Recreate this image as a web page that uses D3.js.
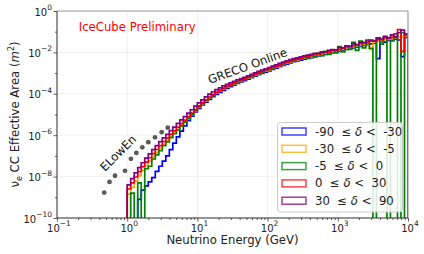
<!DOCTYPE html>
<html>
<head>
<meta charset="utf-8">
<script src="https://cdn.jsdelivr.net/npm/d3@7"></script>
<style>
	body { margin: 0; background: #fff; }
	text { font-family: 'DejaVu Sans', sans-serif; }
</style>
</head>
<body>
<script>
const w = 424;
const h = 254;
const margin = {
	top: 11,
	bottom: 36,
	left: 57,
	right: 16
};
const width = w - margin.left - margin.right;
const height = h - margin.top - margin.bottom;

// energy bins: 1 GeV .. 10 TeV, 20 per decade
const binEdges = d3.range(81).map(function(i) {
	return Math.pow(10, i / 20);
});

// log10 of nu_e CC effective area (m^2) per bin, null = empty bin
const blueLog = [
	null, null, null, -9.10, -8.65, -8.45, -8.25, -8.05, -7.75, -7.50,
	-7.25, -7.00, -6.70, -6.38, -6.08, -5.80, -5.55, -5.30, -5.08, -4.88,
	-4.70, -4.54, -4.40, -4.27, -4.14, -4.03, -3.93, -3.83, -3.74, -3.66,
	-3.58, -3.50, -3.43, -3.36, -3.29, -3.22, -3.15, -3.08, -3.02, -2.95,
	-2.89, -2.82, -2.76, -2.69, -2.63, -2.57, -2.51, -2.45, -2.41, -2.37,
	-2.33, -2.29, -2.25, -2.21, -2.17, -2.14, -2.10, -2.06, -2.02, -1.98,
	-1.94, -1.90, -1.86, -1.83, -1.78, -1.75, -1.71, -1.66, -1.63, -1.59,
	-1.55, -2.30, -1.48, -1.50, -1.42, -1.40, -1.36, -1.40, -2.20, -1.28
];
const orangeLog = [
	-8.85, -8.52, -8.22, -7.95, -7.70, -7.47, -7.25, -7.04, -6.84, -6.64,
	-6.45, -6.27, -6.08, -5.90, -5.72, -5.54, -5.36, -5.19, -5.02, -4.84,
	-4.65, -4.48, -4.34, -4.21, -4.08, -3.97, -3.87, -3.77, -3.68, -3.60,
	-3.52, -3.45, -3.38, -3.31, -3.24, -3.17, -3.10, -3.03, -2.97, -2.90,
	-2.84, -2.77, -2.71, -2.64, -2.58, -2.52, -2.46, -2.40, -2.36, -2.32,
	-2.28, -2.24, -2.20, -2.16, -2.12, -2.09, -2.05, -2.01, -1.97, -1.93,
	-1.89, -1.85, -1.81, -1.77, -1.73, -1.70, -1.66, -1.61, -1.58, -1.85,
	-1.50, -1.46, -1.43, -1.40, -1.37, -1.33, -1.30, -1.28, -1.24, -1.22
];
const greenLog = [
	null, -8.80, null, -8.30, null, -7.62, -7.50, -7.15, -6.95, -6.75,
	-6.50, -6.32, -6.12, -5.93, -5.74, -5.55, -5.37, -5.19, -5.01, -4.83,
	-4.62, -4.46, -4.32, -4.19, -4.06, -3.95, -3.85, -3.75, -3.66, -3.58,
	-3.50, -3.43, -3.36, -3.29, -3.22, -3.15, -3.08, -3.01, -2.95, -2.88,
	-2.82, -2.75, -2.69, -2.62, -2.56, -2.50, -2.44, -2.40, -2.33, -2.31,
	-2.24, -2.26, -2.15, -2.22, -2.05, -2.16, -1.95, -2.10, -1.88, -2.02,
	-1.72, -1.98, -1.68, -1.86, -1.52, -1.90, -1.45, -1.78, -1.40, -1.80,
	null, -1.30, -1.60, -1.25, null, -1.45, -1.10, null, -1.05, null
];
const redLog = [
	-8.60, -8.30, -8.02, -7.76, -7.52, -7.30, -7.09, -6.89, -6.69, -6.50,
	-6.31, -6.14, -5.96, -5.79, -5.61, -5.44, -5.27, -5.10, -4.93, -4.76,
	-4.58, -4.42, -4.29, -4.16, -4.03, -3.92, -3.82, -3.72, -3.63, -3.55,
	-3.47, -3.40, -3.33, -3.26, -3.19, -3.12, -3.05, -2.98, -2.92, -2.85,
	-2.79, -2.72, -2.66, -2.59, -2.53, -2.47, -2.41, -2.36, -2.32, -2.28,
	-2.23, -2.19, -2.15, -2.11, -2.07, -2.04, -1.99, -1.97, -1.90, -1.90,
	-1.84, -1.80, -1.74, -1.74, -1.66, -1.64, -1.58, -1.52, -1.54, -1.46,
	-1.44, -1.38, -1.38, -1.30, -1.32, -1.26, -1.28, -0.90, -1.95, -1.10
];
const purpleLog = [
	-8.40, -8.10, -7.82, -7.57, -7.33, -7.11, -6.90, -6.70, -6.50, -6.31,
	-6.13, -5.96, -5.78, -5.61, -5.43, -5.26, -5.10, -4.93, -4.77, -4.60,
	-4.44, -4.29, -4.15, -4.02, -3.90, -3.80, -3.71, -3.62, -3.54, -3.47,
	-3.40, -3.33, -3.27, -3.20, -3.13, -3.06, -2.99, -2.92, -2.86, -2.79,
	-2.73, -2.66, -2.60, -2.53, -2.47, -2.41, -2.35, -2.30, -2.26, -2.22,
	-2.17, -2.13, -2.10, -2.05, -2.04, -1.97, -1.98, -1.90, -1.86, -1.88,
	-1.75, -1.78, -1.68, -1.70, -1.58, -1.62, -1.50, -1.54, -1.45, -1.40,
	-1.45, -1.30, -1.36, -1.22, -1.30, -1.15, -1.24, -1.05, -0.92, -1.15
];

const seriesData = [blueLog, orangeLog, greenLog, redLog, purpleLog];
const seriesLow = ['-90', '-30', '-5', '0', '30'];
const seriesHigh = ['-30', '-5', '0', '30', '90'];
const seriesColors = ['blue', 'orange', 'green', 'red', 'purple'];

// ELowEn points (GeV, m^2)
const elowenE = [0.47, 0.56, 0.67, 0.93, 1.13, 1.35, 1.64, 2.0, 2.49, 3.1, 3.78];
const elowenA = [1.7e-9, 5.5e-9, 1.1e-8, 1.9e-8, 7.2e-8, 1.4e-7, 2.6e-7, 4.6e-7, 7.9e-7, 1.4e-6, 2.3e-6];

const xMajor = [1e-1, 1, 1e1, 1e2, 1e3, 1e4];
const yMajor = [1e-10, 1e-8, 1e-6, 1e-4, 1e-2, 1];
const yMinor = [1e-9, 1e-7, 1e-5, 1e-3, 1e-1];

let x = d3.scaleLog().domain([1e-1, 1e4]).range([0, width]);
let y = d3.scaleLog().domain([1e-10, 1]).range([height, 0]);

let xMinor = [];
[-1, 0, 1, 2, 3].forEach(function(k) {
	for (let m = 2; m < 10; m++) xMinor.push(m * Math.pow(10, k));
});

let svg = d3.select('body').append('svg').attr('width', w).attr('height', h);
let g = svg.append('g').attr('transform', 'translate(' + margin.left + ',' + margin.top + ')');

svg.append('defs').append('clipPath').attr('id', 'plotclip')
	.append('rect').attr('x', 0).attr('y', 0).attr('width', width).attr('height', height);

// grid
g.selectAll('.xgrid').data(xMajor).enter().append('line')
	.attr('x1', function(d) { return x(d); }).attr('x2', function(d) { return x(d); })
	.attr('y1', 0).attr('y2', height)
	.attr('stroke', '#ebebeb').attr('stroke-width', 0.8);
g.selectAll('.ygrid').data(yMajor).enter().append('line')
	.attr('x1', 0).attr('x2', width)
	.attr('y1', function(d) { return y(d); }).attr('y2', function(d) { return y(d); })
	.attr('stroke', '#ebebeb').attr('stroke-width', 0.8);

function yv(v) {
	return v === null ? height + 10 : y(Math.pow(10, v));
}

// matplotlib-style step outline, open bins drop to the floor
function stepPath(vals) {
	let p = 'M' + x(binEdges[0]) + ',' + (height + 10);
	vals.forEach(function(v, i) {
		p += 'V' + yv(v) + 'H' + x(binEdges[i + 1]);
	});
	return p + 'V' + (height + 10);
}

let plot = g.append('g').attr('clip-path', 'url(#plotclip)');

plot.selectAll('.hist').data(seriesData).enter().append('path')
	.attr('class', 'hist')
	.attr('d', stepPath)
	.attr('fill', 'none')
	.attr('stroke', function(d, i) { return seriesColors[i]; })
	.attr('stroke-width', 1.7);

plot.selectAll('.elow').data(elowenE).enter().append('circle')
	.attr('cx', function(d) { return x(d); })
	.attr('cy', function(d, i) { return y(elowenA[i]); })
	.attr('r', 2.4)
	.attr('fill', '#5a5a5a');

// ticks
g.append('g').attr('transform', 'translate(0,' + height + ')')
	.call(d3.axisBottom(x).tickValues(xMajor).tickSize(3.5).tickFormat(''))
	.call(function(s) { s.select('.domain').remove(); });
g.append('g').attr('transform', 'translate(0,' + height + ')')
	.call(d3.axisBottom(x).tickValues(xMinor).tickSize(2).tickFormat(''))
	.call(function(s) { s.select('.domain').remove(); });
g.append('g')
	.call(d3.axisLeft(y).tickValues(yMajor).tickSize(3.5).tickFormat(''))
	.call(function(s) { s.select('.domain').remove(); });
g.append('g')
	.call(d3.axisLeft(y).tickValues(yMinor).tickSize(2).tickFormat(''))
	.call(function(s) { s.select('.domain').remove(); });
g.selectAll('.tick line').attr('stroke', '#333').attr('stroke-width', 0.8);

function powLabel(sel, d) {
	let e = Math.round(Math.log10(d));
	sel.append('tspan').text('10');
	sel.append('tspan').attr('dy', -5.5).attr('font-size', 7.5)
		.text(e < 0 ? '\u2212' + (-e) : String(e));
}

g.selectAll('.xlab').data(xMajor).enter().append('text')
	.attr('x', function(d) { return x(d) + 2; })
	.attr('y', height + 13.5)
	.attr('text-anchor', 'middle')
	.attr('font-size', 10)
	.attr('fill', '#222')
	.each(function(d) { powLabel(d3.select(this), d); });

g.selectAll('.ylab').data(yMajor).enter().append('text')
	.attr('x', -5)
	.attr('y', function(d) { return y(d) + 4.5; })
	.attr('text-anchor', 'end')
	.attr('font-size', 10)
	.attr('fill', '#222')
	.each(function(d) { powLabel(d3.select(this), d); });

// spines
g.append('line').attr('x1', 0).attr('x2', width).attr('y1', 0).attr('y2', 0).attr('stroke', '#a0a0a0').attr('stroke-width', 1.2);
g.append('line').attr('x1', width).attr('x2', width).attr('y1', 0).attr('y2', height).attr('stroke', '#a0a0a0').attr('stroke-width', 1.2);
g.append('line').attr('x1', 0).attr('x2', 0).attr('y1', 0).attr('y2', height).attr('stroke', '#333').attr('stroke-width', 1);
g.append('line').attr('x1', 0).attr('x2', width).attr('y1', height).attr('y2', height).attr('stroke', '#333').attr('stroke-width', 1);

// axis labels
svg.append('text')
	.attr('x', margin.left + width / 2)
	.attr('y', 243.5)
	.attr('text-anchor', 'middle')
	.attr('font-size', 11.7)
	.attr('fill', '#222')
	.text('Neutrino Energy (GeV)');

let yl = svg.append('text')
	.attr('transform', 'translate(19,' + (margin.top + height / 2) + ') rotate(-90)')
	.attr('text-anchor', 'middle')
	.attr('font-size', 11.7)
	.attr('fill', '#222');
yl.append('tspan').text('\u03bd');
yl.append('tspan').attr('dy', 2.5).attr('font-size', 8).text('e');
yl.append('tspan').attr('dy', -2.5).text(' CC Effective Area (');
yl.append('tspan').attr('font-style', 'italic').text('m');
yl.append('tspan').attr('dy', -5).attr('font-size', 8).text('2');
yl.append('tspan').attr('dy', 5).text(')');

// annotations
svg.append('text')
	.attr('x', 78.7).attr('y', 31)
	.attr('font-size', 11.7)
	.attr('fill', 'red')
	.text('IceCube Preliminary');

svg.append('text')
	.attr('transform', 'translate(247.5,66) rotate(-20)')
	.attr('text-anchor', 'middle')
	.attr('dy', '0.35em')
	.attr('font-size', 11.7)
	.attr('fill', '#111')
	.text('GRECO Online');

svg.append('text')
	.attr('transform', 'translate(118,153) rotate(-45)')
	.attr('text-anchor', 'middle')
	.attr('dy', '0.35em')
	.attr('font-size', 11.7)
	.attr('fill', '#111')
	.text('ELowEn');

// legend
let legend = svg.append('g');
legend.append('rect')
	.attr('x', 277.5).attr('y', 122.5)
	.attr('width', 125).attr('height', 89.5)
	.attr('rx', 3)
	.attr('fill', '#fff').attr('fill-opacity', 0.85)
	.attr('stroke', '#ccc').attr('stroke-width', 1);

let rows = legend.selectAll('.row').data(seriesColors).enter().append('g')
	.attr('transform', function(d, i) { return 'translate(0,' + (131.5 + i * 17.3) + ')'; });
rows.append('rect')
	.attr('x', 282).attr('y', -3.5)
	.attr('width', 24).attr('height', 7)
	.attr('fill', 'none')
	.attr('stroke', function(d) { return d; })
	.attr('stroke-opacity', 0.75)
	.attr('stroke-width', 1.5);
let lt = rows.append('text')
	.attr('x', 315).attr('y', 4)
	.attr('font-size', 11.7)
	.attr('fill', '#222')
	.style('white-space', 'pre');
lt.append('tspan').text(function(d, i) { return seriesLow[i] + '  \u2264 '; });
lt.append('tspan').attr('font-style', 'italic').text('\u03b4');
lt.append('tspan').text(function(d, i) { return ' <  ' + seriesHigh[i]; });
</script>
</body>
</html>
